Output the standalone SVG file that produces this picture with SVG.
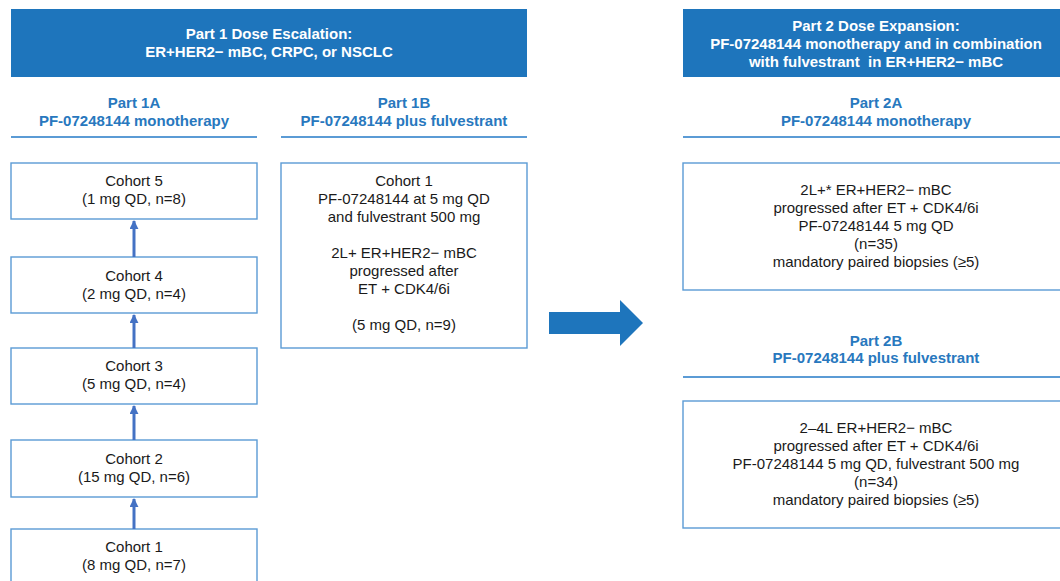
<svg xmlns="http://www.w3.org/2000/svg" width="1060" height="581" viewBox="0 0 1060 581">
<defs>
<style>
.hdr{fill:#1E75BC}
.ht{font-family:"Liberation Sans",Arial,sans-serif;font-size:15px;font-weight:bold;fill:#FFFFFF;text-anchor:middle}
.sub{font-family:"Liberation Sans",Arial,sans-serif;font-size:15px;font-weight:bold;fill:#2878BE;text-anchor:middle}
.ul{stroke:#5B9BD5;stroke-width:2;fill:none}
.box{fill:#FFFFFF;stroke:#5B9BD5;stroke-width:1.4}
.t{font-family:"Liberation Sans",Arial,sans-serif;font-size:15px;fill:#1A1A1A;text-anchor:middle}
.conn{stroke:#4472C4;stroke-width:3;fill:none}
</style>
<marker id="ah" viewBox="0 0 10 10" refX="9" refY="5" markerWidth="3" markerHeight="3" orient="auto" markerUnits="strokeWidth">
<path d="M0,0 L10,5 L0,10 z" fill="#4472C4"/>
</marker>
</defs>
<rect width="1060" height="581" fill="#FFFFFF"/>

<g id="part1-header">
<rect class="hdr" x="11" y="9" width="516" height="68"/>
<text class="ht" x="269" y="39">Part 1 Dose Escalation:</text>
<text class="ht" x="269" y="57">ER+HER2− mBC, CRPC, or NSCLC</text>
</g>

<g id="part1a-heading">
<text class="sub" x="134" y="108">Part 1A</text>
<text class="sub" x="134" y="126">PF-07248144 monotherapy</text>
<line class="ul" x1="11" y1="137" x2="257" y2="137"/>
</g>

<g id="part1b-heading">
<text class="sub" x="404" y="108">Part 1B</text>
<text class="sub" x="404" y="126">PF-07248144 plus fulvestrant</text>
<line class="ul" x1="281" y1="137" x2="527" y2="137"/>
</g>

<g id="cohort5">
<rect class="box" x="11" y="163" width="246" height="56"/>
<text class="t" x="134" y="186">Cohort 5</text>
<text class="t" x="134" y="204">(1 mg QD, n=8)</text>
</g>
<g id="cohort4">
<rect class="box" x="11" y="257" width="246" height="56"/>
<text class="t" x="134" y="281">Cohort 4</text>
<text class="t" x="134" y="299">(2 mg QD, n=4)</text>
</g>
<g id="cohort3">
<rect class="box" x="11" y="348" width="246" height="56"/>
<text class="t" x="134" y="371">Cohort 3</text>
<text class="t" x="134" y="389">(5 mg QD, n=4)</text>
</g>
<g id="cohort2">
<rect class="box" x="11" y="440" width="246" height="57"/>
<text class="t" x="134" y="464">Cohort 2</text>
<text class="t" x="134" y="482">(15 mg QD, n=6)</text>
</g>
<g id="cohort1">
<rect class="box" x="11" y="529" width="246" height="60"/>
<text class="t" x="134" y="552">Cohort 1</text>
<text class="t" x="134" y="570">(8 mg QD, n=7)</text>
</g>

<g id="part1b-cohort1">
<rect class="box" x="281" y="163" width="246" height="185"/>
<text class="t" x="404" y="186">Cohort 1</text>
<text class="t" x="404" y="204">PF-07248144 at 5 mg QD</text>
<text class="t" x="404" y="222">and fulvestrant 500 mg</text>
<text class="t" x="404" y="258">2L+ ER+HER2− mBC</text>
<text class="t" x="404" y="276">progressed after</text>
<text class="t" x="404" y="294">ET + CDK4/6i</text>
<text class="t" x="404" y="330">(5 mg QD, n=9)</text>
</g>

<g id="part2-header">
<rect class="hdr" x="683" y="9" width="390" height="68"/>
<text class="ht" x="876" y="31">Part 2 Dose Expansion:</text>
<text class="ht" x="876" y="49">PF-07248144 monotherapy and in combination</text>
<text class="ht" x="876" y="67">with fulvestrant&#160; in ER+HER2− mBC</text>
</g>

<g id="part2a-heading">
<text class="sub" x="876" y="108">Part 2A</text>
<text class="sub" x="876" y="126">PF-07248144 monotherapy</text>
<line class="ul" x1="683" y1="137" x2="1070" y2="137"/>
</g>

<g id="part2a-box">
<rect class="box" x="683" y="163" width="390" height="127"/>
<text class="t" x="876" y="195">2L+* ER+HER2− mBC</text>
<text class="t" x="876" y="213">progressed after ET + CDK4/6i</text>
<text class="t" x="876" y="231">PF-07248144 5 mg QD</text>
<text class="t" x="876" y="249">(n=35)</text>
<text class="t" x="876" y="267">mandatory paired biopsies (≥5)</text>
</g>

<g id="part2b-heading">
<text class="sub" x="876" y="346">Part 2B</text>
<text class="sub" x="876" y="363">PF-07248144 plus fulvestrant</text>
<line class="ul" x1="683" y1="377" x2="1070" y2="377"/>
</g>

<g id="part2b-box">
<rect class="box" x="683" y="401" width="390" height="127"/>
<text class="t" x="876" y="433">2–4L ER+HER2− mBC</text>
<text class="t" x="876" y="451">progressed after ET + CDK4/6i</text>
<text class="t" x="876" y="469">PF-07248144 5 mg QD, fulvestrant 500 mg</text>
<text class="t" x="876" y="487">(n=34)</text>
<text class="t" x="876" y="505">mandatory paired biopsies (≥5)</text>
</g>

<g id="connectors">
<line class="conn" x1="134" y1="257" x2="134" y2="221" marker-end="url(#ah)"/>
<line class="conn" x1="134" y1="348" x2="134" y2="315" marker-end="url(#ah)"/>
<line class="conn" x1="134" y1="440" x2="134" y2="406" marker-end="url(#ah)"/>
<line class="conn" x1="134" y1="529" x2="134" y2="499" marker-end="url(#ah)"/>
<polygon fill="#1E75BC" points="549,312 620,312 620,300 643,323 620,346 620,334 549,334"/>
</g>
</svg>
